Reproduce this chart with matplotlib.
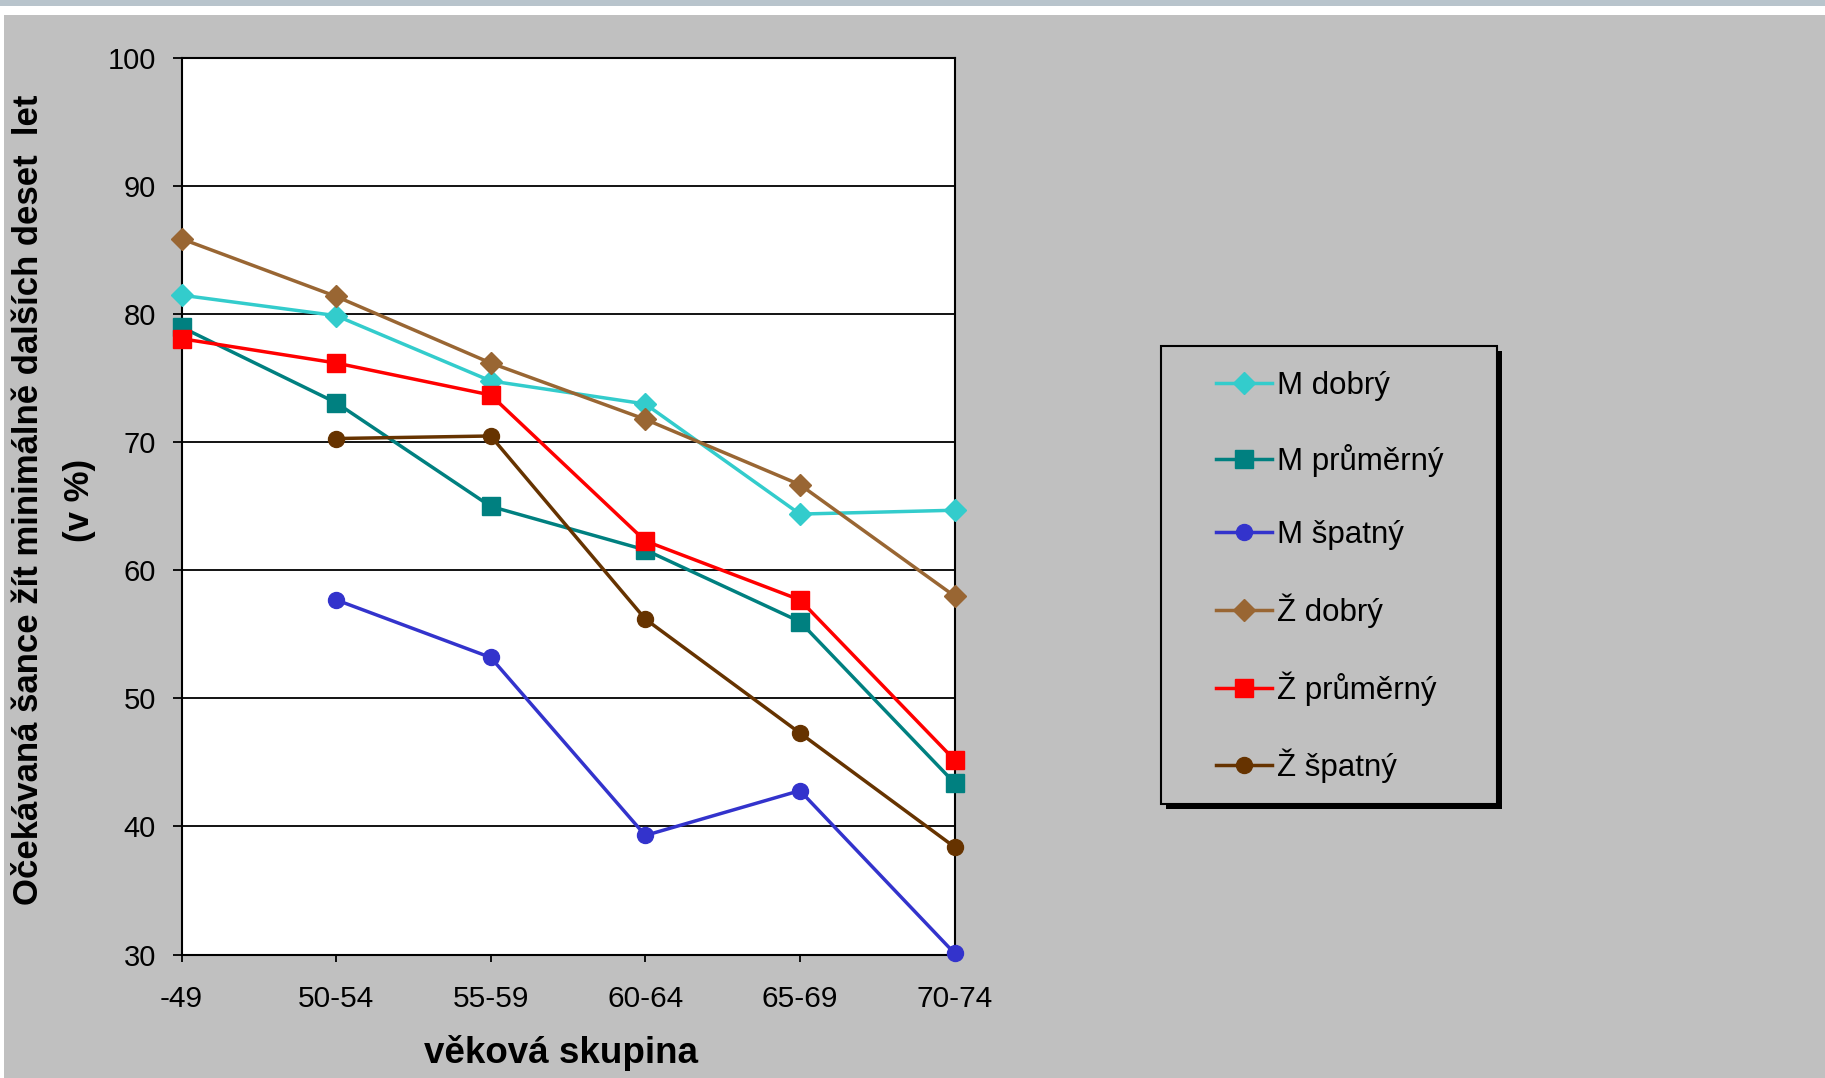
import numpy as np
import matplotlib
matplotlib.use('Agg')
import matplotlib.pyplot as plt
from matplotlib.patches import Rectangle

plt.rcParams['font.family'] = ['Liberation Sans', 'DejaVu Sans']

# age groups on the x axis
categories = ['-49', '50-54', '55-59', '60-64', '65-69', '70-74']

# expected chance to live at least ten more years (%)
m_dobry = [81.5, 79.9, 74.8, 73.0, 64.4, 64.7]
m_prumerny = [79.0, 73.1, 65.0, 61.6, 56.0, 43.4]
m_spatny = [np.nan, 57.7, 53.2, 39.3, 42.8, 30.1]
z_dobry = [85.9, 81.4, 76.2, 71.8, 66.7, 58.0]
z_prumerny = [78.1, 76.2, 73.7, 62.3, 57.7, 45.2]
z_spatny = [np.nan, 70.3, 70.5, 56.2, 47.3, 38.4]

series = [
    ('M dobrý', m_dobry, '#33CCCC', 'D', 11.5),
    ('M průměrný', m_prumerny, '#008080', 's', 12.5),
    ('M špatný', m_spatny, '#3333CC', 'o', 11.5),
    ('Ž dobrý', z_dobry, '#996633', 'D', 11.5),
    ('Ž průměrný', z_prumerny, '#FF0000', 's', 12.5),
    ('Ž špatný', z_spatny, '#663300', 'o', 11.5),
]

yticks = [30, 40, 50, 60, 70, 80, 90, 100]

fig = plt.figure(figsize=(18.25, 10.78), dpi=100)
fig.patch.set_facecolor('#C0C0C0')

# window-like strips at the top and left edge
fig.patches.append(Rectangle((0, 1 - 15 / 1078), 1, 15 / 1078, transform=fig.transFigure,
                             facecolor='white', edgecolor='none', zorder=0))
fig.patches.append(Rectangle((0, 1 - 6 / 1078), 1, 6 / 1078, transform=fig.transFigure,
                             facecolor='#B8C4CC', edgecolor='none', zorder=1))
fig.patches.append(Rectangle((0, 0), 4 / 1825, 1 - 15 / 1078, transform=fig.transFigure,
                             facecolor='white', edgecolor='none', zorder=0))

ax = fig.add_axes([181.5 / 1825, 1 - 954.5 / 1078, (954.5 - 181.5) / 1825, (954.5 - 58.3) / 1078])
ax.set_facecolor('white')

x = np.arange(len(categories))
handles = []
for name, vals, col, mk, ms in series:
    h, = ax.plot(x, vals, color=col, lw=2.5, marker=mk, markersize=ms,
                 markerfacecolor=col, markeredgecolor=col, label=name,
                 clip_on=False, zorder=3)
    handles.append(h)

ax.set_xlim(0, len(categories) - 1)
ax.set_ylim(30, 100)
ax.set_xticks(x)
ax.set_xticklabels(categories)
ax.set_yticks(yticks)
ax.yaxis.grid(True, color='black', lw=1.3)
ax.set_axisbelow(True)
for s in ax.spines.values():
    s.set_color('black')
    s.set_linewidth(1.5)

ax.tick_params(axis='x', direction='out', length=5, width=1.3, pad=17, labelsize=21.5)
ax.tick_params(axis='y', direction='out', length=6.5, width=1.3, pad=12, labelsize=21)

fig.text(54 / 1825, 1 - 500 / 1078,
         'Očekávaná šance žít minimálně dalších deset  let\n(v %)',
         rotation=90, ha='center', va='center', multialignment='center',
         fontsize=25, fontweight='bold', linespacing=1.7)
fig.text(561 / 1825, 1 - 1053 / 1078, 'věková skupina', ha='center', va='center',
         fontsize=26.5, fontweight='bold')

# legend box with black drop shadow
lx0, lx1, ly0, ly1 = 1161, 1497, 346, 804
fig.patches.append(Rectangle(((lx0 + 5) / 1825, 1 - (ly1 + 5) / 1078), (lx1 - lx0) / 1825,
                             (ly1 - ly0) / 1078, transform=fig.transFigure,
                             facecolor='black', edgecolor='none', zorder=2))
fig.patches.append(Rectangle((lx0 / 1825, 1 - ly1 / 1078), (lx1 - lx0) / 1825,
                             (ly1 - ly0) / 1078, transform=fig.transFigure,
                             facecolor='#C0C0C0', edgecolor='black', lw=1.5, zorder=3))

leg = fig.legend(handles=handles, loc='upper left',
                 bbox_to_anchor=(1216 / 1825, 1 - 371 / 1078),
                 frameon=False, fontsize=22.5, handlelength=1.8, handletextpad=0.15,
                 labelspacing=1.38, borderaxespad=0, borderpad=0)
leg.set_zorder(5)

fig.savefig('out.png', dpi=100, facecolor=fig.get_facecolor())
plt.close(fig)
